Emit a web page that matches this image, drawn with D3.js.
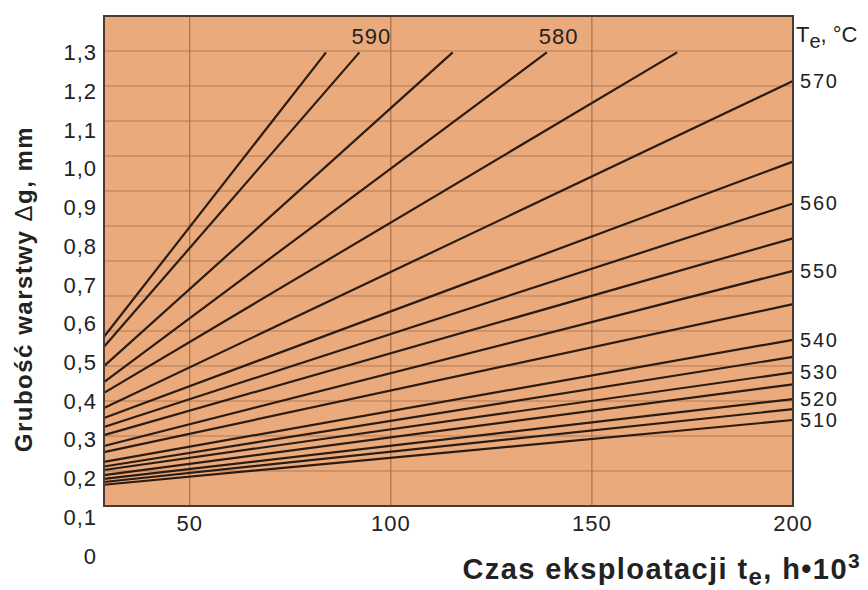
<!DOCTYPE html>
<html>
<head>
<meta charset="utf-8">
<script src="https://cdn.jsdelivr.net/npm/d3@7"></script>
<style>
    body { margin: 0; background: #fff; }
    text { font-family: "Liberation Sans", Arial, sans-serif; fill: #222; }
</style>
</head>
<body>
<script>
// temperature of each line, °C
var temps = [595, 590, 585, 580, 575, 570, 565, 560, 555, 550, 545, 540, 535, 530, 525, 520, 515, 510];
// thickness at the left edge of the chart (t = 28.7)
var startThickness = [0.566, 0.540, 0.490, 0.449, 0.421, 0.382, 0.356, 0.333, 0.312, 0.284,
    0.268, 0.243, 0.231, 0.222, 0.209, 0.199, 0.191, 0.184];
// where each line ends: time (h*10^3) and thickness (mm)
var endTime = [83.9, 92.2, 115.4, 138.8, 171.2, 200, 200, 200, 200, 200,
    200, 200, 200, 200, 200, 200, 200, 200];
var endThickness = [1.3, 1.3, 1.3, 1.3, 1.3, 1.226, 1.018, 0.910, 0.820, 0.736,
    0.650, 0.558, 0.514, 0.474, 0.443, 0.405, 0.379, 0.351];
var tStart = 28.7;

var xTicks = [50, 100, 150, 200];
var yTicks = [0, 0.1, 0.2, 0.3, 0.4, 0.5, 0.6, 0.7, 0.8, 0.9, 1.0, 1.1, 1.2, 1.3];
var rightLabels = [570, 560, 550, 540, 530, 520, 510];
var topLabels = [590, 580];

var W = 868, H = 590;
var plot = {left: 104, top: 16, right: 793, bottom: 506};

var x = d3.scaleLinear()
    .domain([tStart, 200])
    .range([plot.left, plot.right]);

var y = d3.scaleLinear()
    .domain([0, 1.3])
    .range([556, 52.4]);

// rows of the grid are 14 even bands of the plot
var gridY = d3.scaleLinear()
    .domain([0, 14])
    .range([plot.bottom, plot.top]);

var svg = d3.select("body").append("svg")
    .attr("width", W)
    .attr("height", H);

svg.append("rect")
    .attr("x", plot.left)
    .attr("y", plot.top)
    .attr("width", plot.right - plot.left)
    .attr("height", plot.bottom - plot.top)
    .attr("fill", "#ebaa7c");

svg.append("g")
    .selectAll("line")
    .data(d3.range(1, 14))
    .enter().append("line")
    .attr("x1", plot.left)
    .attr("x2", plot.right)
    .attr("y1", function (d) { return gridY(d); })
    .attr("y2", function (d) { return gridY(d); })
    .attr("stroke", "#b27a55")
    .attr("stroke-width", 1.2);

svg.append("g")
    .selectAll("line")
    .data([50, 100, 150])
    .enter().append("line")
    .attr("x1", function (d) { return x(d); })
    .attr("x2", function (d) { return x(d); })
    .attr("y1", plot.top)
    .attr("y2", plot.bottom)
    .attr("stroke", "#a8714d")
    .attr("stroke-width", 1.2);

var lines = temps.map(function (t, i) {
    return {
        temp: t,
        pts: [[tStart, startThickness[i]], [endTime[i], endThickness[i]]]
    };
});

var line = d3.line()
    .x(function (d) { return x(d[0]); })
    .y(function (d) { return y(d[1]); });

svg.append("g")
    .selectAll("path")
    .data(lines)
    .enter().append("path")
    .attr("d", function (d) { return line(d.pts); })
    .attr("fill", "none")
    .attr("stroke", "#2a1c12")
    .attr("stroke-width", 2.2);

svg.append("rect")
    .attr("x", plot.left)
    .attr("y", plot.top)
    .attr("width", plot.right - plot.left)
    .attr("height", plot.bottom - plot.top)
    .attr("fill", "none")
    .attr("stroke", "#4a3a30")
    .attr("stroke-width", 2);

// y tick labels
var fmt = function (v) { return v === 0 ? "0" : d3.format(".1f")(v).replace(".", ","); };
svg.append("g")
    .selectAll("text")
    .data(yTicks)
    .enter().append("text")
    .attr("x", 97)
    .attr("y", function (d) { return y(d); })
    .attr("dy", "0.35em")
    .attr("text-anchor", "end")
    .style("font-size", "22px")
    .style("letter-spacing", "1px")
    .text(fmt);

// x tick labels
svg.append("g")
    .selectAll("text")
    .data(xTicks)
    .enter().append("text")
    .attr("x", function (d) { return x(d); })
    .attr("y", 523)
    .attr("dy", "0.35em")
    .attr("text-anchor", "middle")
    .style("font-size", "22px")
    .style("letter-spacing", "1px")
    .text(function (d) { return d; });

// line labels on the right
svg.append("g")
    .selectAll("text")
    .data(rightLabels)
    .enter().append("text")
    .attr("x", plot.right + 7)
    .attr("y", function (d) { return y(endThickness[temps.indexOf(d)]); })
    .attr("dy", "0.35em")
    .style("font-size", "20px")
    .style("letter-spacing", "1.8px")
    .text(function (d) { return d; });

// line labels at the top
svg.append("g")
    .selectAll("text")
    .data(topLabels)
    .enter().append("text")
    .attr("x", function (d) { return x(endTime[temps.indexOf(d)]) - 8; })
    .attr("y", function (d) { return y(endThickness[temps.indexOf(d)]) - 16; })
    .attr("dy", "0.35em")
    .style("font-size", "22px")
    .style("letter-spacing", "1px")
    .text(function (d) { return d; });

// unit of the line labels
var te = svg.append("text")
    .attr("x", plot.right + 3)
    .attr("y", 42)
    .style("font-size", "22px");
te.append("tspan").text("T");
te.append("tspan").attr("dy", 6).style("font-size", "20px").text("e");
te.append("tspan").attr("dy", -6).text(", °C");

// axis titles
var xt = svg.append("text")
    .attr("x", 861)
    .attr("y", 579)
    .attr("text-anchor", "end")
    .style("font-size", "29px")
    .style("letter-spacing", "1.4px")
    .style("font-weight", "bold");
xt.append("tspan").text("Czas eksploatacji t");
xt.append("tspan").attr("dy", 6).style("font-size", "24px").text("e");
xt.append("tspan").attr("dy", -6).text(", h•10");
xt.append("tspan").attr("dy", -11).style("font-size", "21px").text("3");

var yt = svg.append("text")
    .attr("transform", "translate(32,289) rotate(-90)")
    .attr("text-anchor", "middle")
    .style("font-size", "24px")
    .style("letter-spacing", "1.5px")
    .style("font-weight", "bold");
yt.append("tspan").text("Grubość  warstwy ");
yt.append("tspan").style("font-weight", "normal").text("Δ");
yt.append("tspan").text("g, mm");
</script>
</body>
</html>
